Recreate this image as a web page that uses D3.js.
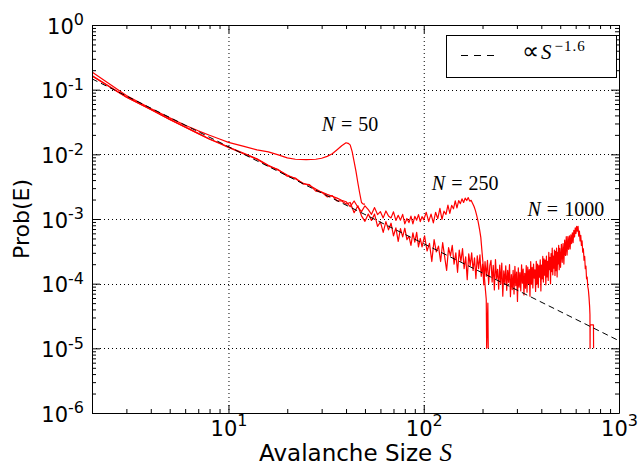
<!DOCTYPE html>
<html>
<head>
<meta charset="utf-8">
<script src="https://cdn.jsdelivr.net/npm/d3@7"></script>
<style>
  body { margin: 0; background: #fff; }
  svg text { fill: #000; }
</style>
</head>
<body>
<script>
// avalanche size distributions
const smallSizes = [2,3,4,5,6,7,8,9,10,12,14,16,18,20,22,24,26,28,30,32,34,36,38,40];

const n50Size = [2,3,4,5,6,7,8,9,10,12,14,16,18,20,22,25,28,30,32,34,36,38,40,41,42,43,44,45,46,47,48,49,50];
const n50Prob = [0.188,0.0815,0.0513,0.0366,0.0281,0.0231,0.0197,0.0173,0.0153,
  0.0133,0.0117,0.0109,0.0098,0.0088,0.0084,
  0.0083,0.0084,0.0087,0.0093,0.0102,0.0118,0.0136,0.0151,
  0.0148,0.0140,0.0110,0.0077,0.0054,0.0036,0.0025,0.0018,0.0017,0.0017];

const n250Size = smallSizes.concat(
  [42,44,46,48,50,52,54,56,58,60,62,64,66,68,70,72,74,76,78,80,82,84,86,88,90,92,94,96,98,100],
  [103,106,109,112,115,118,121,124,127,130,133,136,139,142,145,148,151,154,157,160,163,166,169,172,175],
  [178,181,184,187,190,193,196,199,202,205,207,209,210,213,214]);
const n250Prob = [0.166,0.0773,0.0496,0.0347,0.0266,0.0211,0.0173,0.0150,0.0130,0.0104,0.0085,0.0068,
  0.0057,0.0048,0.0042,0.0036,0.0033,0.0029,0.0026,0.0024,0.00225,0.0021,0.00195,0.00185,
  1.55e-3,1.9e-3,1.52e-3,1.3e-3,1.6e-3,1.4e-3,1.18e-3,1.5e-3,1.17e-3,1.3e-3,
  1.04e-3,1.33e-3,1.11e-3,1.04e-3,1.29e-3,9.5e-4,1.14e-3,9.6e-4,1.18e-3,8.4e-4,
  1.02e-3,8.8e-4,1.11e-3,8.4e-4,1.1e-3,9.6e-4,1.17e-3,9.1e-4,1.09e-3,9.7e-4,
  1.27e-3,9.1e-4,1.19e-3,8.7e-4,1.27e-3,1.01e-3,1.46e-3,9.9e-4,1.32e-3,1.18e-3,
  1.64e-3,1.22e-3,1.63e-3,1.44e-3,1.91e-3,1.48e-3,1.93e-3,1.73e-3,2.05e-3,1.8e-3,
  2.1e-3,1.93e-3,2.14e-3,1.89e-3,1.94e-3,
  1.74e-3,1.56e-3,1.35e-3,1.12e-3,9.0e-4,7.0e-4,5.2e-4,3.0e-4,1.8e-4,1.15e-4,8e-5,5.7e-5,1e-5,5e-5,1e-5];

const n1000Size = smallSizes.concat(
  [42,44,46,48,50,52,54,56,58,60,62,64,66,68,70,72,74,76,78,80,82,84,86,88,90,92,94,96,98],
  [101,104,107,110,113,116,119,122,125,128,131,134,137,140,143,146,149,152,155,158,
   161,164,167,170,173,176,179,182,185,188,191,194,197,200,203,206,209,212,215,218],
  [221,224,227,230,233,236,239,242,245,248,251,254,257,260,263,266,269,272,275,278,
   281,284,287,290,293,296,299,302,305,308,311,314,317,320,323,326,329,332,335,338,
   341,344,347,350,353,356,359,362,365,368,371,374,377,380,383,386,389,392,395,398,
   401,404,407,410,413,416,419,422,425,428,431,434,437,440,443,446,449,452,455,458,
   461,464,467,470,473,476,479,482,485,488,491,494,497],
  [502,507,512,517,522,527,532,537,542,547,552,557,562,567,572,577,582,587,592,597,
   602,607,612,617,622,627,632,637,642,647,652,657,662,667,672,677,682,687,692,697,702,707],
  [710,711,712,740,741]);
const n1000Prob = [0.163,0.0765,0.0492,0.0345,0.0263,0.0209,0.0171,0.0147,0.0128,0.0101,0.0084,0.0066,
  0.0058,0.0046,0.0043,0.0035,0.0034,0.0027,0.0026,0.0022,0.0023,0.0019,0.0019,0.0017,
  1.8e-3,1.25e-3,1.6e-3,1.12e-3,9.2e-4,1.19e-3,9.5e-4,1.19e-3,7.7e-4,9.0e-4,
  6.2e-4,9.1e-4,6.8e-4,8.6e-4,5.5e-4,7.3e-4,4.5e-4,7.1e-4,5.3e-4,7.2e-4,
  4.8e-4,5.4e-4,3.9e-4,6.1e-4,4.4e-4,6.2e-4,3.7e-4,5.0e-4,3.7e-4,
  5.5e-4,3.2e-4,4.2e-4,2.2e-4,4.8e-4,3.1e-4,3.8e-4,2.2e-4,4.3e-4,2.6e-4,
  1.6e-4,3.6e-4,2.7e-4,3.9e-4,2.0e-4,3.0e-4,1.5e-4,3.3e-4,2.2e-4,3.5e-4,
  1.7e-4,2.6e-4,1.15e-4,2.9e-4,1.9e-4,3.0e-4,1.6e-4,2.5e-4,1.2e-4,2.7e-4,
  1.7e-4,2.8e-4,1.3e-4,2.0e-4,9.6e-5,2.2e-4,1.3e-4,2.3e-4,1.0e-4,1.9e-4,
  2.3e-4,1.06e-4,1.92e-4,8.0e-5,2.36e-4,1.2e-4,1.66e-4,8.2e-5,1.94e-4,9.9e-5,
  2.08e-4,6.4e-5,1.58e-4,9.9e-5,1.89e-4,7.9e-5,1.61e-4,1.05e-4,1.97e-4,6.3e-5,
  1.38e-4,8.1e-5,1.61e-4,6.9e-5,1.86e-4,9.3e-5,1.51e-4,5.3e-5,1.76e-4,8.8e-5,
  1.48e-4,7.7e-5,1.96e-4,1.02e-4,1.68e-4,6.7e-5,1.45e-4,8.5e-5,1.91e-4,7.4e-5,
  1.81e-4,1.01e-4,1.65e-4,6.4e-5,2.19e-4,9.8e-5,1.78e-4,8.6e-5,2.01e-4,1.22e-4,
  1.64e-4,7.6e-5,2.22e-4,9.9e-5,2.0e-4,8.7e-5,1.9e-4,1.26e-4,2.33e-4,7.7e-5,
  1.94e-4,1.19e-4,2.64e-4,1.06e-4,2.41e-4,1.35e-4,2.32e-4,9.6e-5,2.67e-4,1.27e-4,
  2.21e-4,1.12e-4,3.04e-4,1.64e-4,2.55e-4,1.0e-4,2.93e-4,1.54e-4,3.54e-4,1.37e-4,
  2.68e-4,1.74e-4,3.3e-4,1.34e-4,3.15e-4,1.59e-4,3.55e-4,1.27e-4,3.06e-4,2.03e-4,
  3.9e-4,1.64e-4,3.51e-4,
  1.79e-4,4.06e-4,2.14e-4,4.16e-4,2.01e-4,4.73e-4,2.74e-4,5.32e-4,2.77e-4,5.33e-4,
  3.4e-4,5.5e-4,3.45e-4,5.7e-4,4.17e-4,6.12e-4,4.32e-4,6.67e-4,5.27e-4,7.28e-4,
  5.98e-4,7.7e-4,6.48e-4,7.73e-4,5.44e-4,6.49e-4,4.59e-4,5.6e-4,3.91e-4,4.59e-4,
  3.06e-4,3.47e-4,2.3e-4,2.64e-4,1.7e-4,1.87e-4,1.19e-4,1.26e-4,9.0e-5,8.0e-5,6.2e-5,4.5e-5,
  3.3e-5,1e-5,2.3e-5,2.3e-5,1e-5];

// power law guide, endpoints
const fitSize = [2, 1000];
const fitProb = [0.147, 1.31e-5];

const xTicks = [10, 100, 1000];
const yTicks = [1, 1e-1, 1e-2, 1e-3, 1e-4, 1e-5, 1e-6];
const labels = [
  {n: "50", s: 30, p: 0.0231},
  {n: "250", s: 110, p: 2.83e-3},
  {n: "1000", s: 340, p: 1.12e-3}
];

const width = 639, height = 466;
const pLeft = 92, pRight = 619, pTop = 25, pBottom = 413;

const svg = d3.select("body").append("svg")
    .attr("width", width)
    .attr("height", height);

const x = d3.scaleLog().domain([2, 1000]).range([pLeft, pRight]);
const y = d3.scaleLog().domain([1e-6, 1]).range([pBottom, pTop]);

const minorX = [3,4,5,6,7,8,9,20,30,40,50,60,70,80,90,200,300,400,500,600,700,800,900];
const minorY = [];
for (let e = -6; e < 0; e++) {
    for (let k = 2; k < 10; k++) minorY.push(k * Math.pow(10, e));
}

svg.append("defs").append("clipPath").attr("id", "plot")
    .append("rect").attr("x", pLeft).attr("y", pTop)
    .attr("width", pRight - pLeft + 1).attr("height", pBottom - pTop + 1);

// grid
const grid = svg.append("g")
    .attr("stroke", "#000")
    .attr("stroke-width", 1)
    .attr("stroke-dasharray", "1,3");
[10, 100].forEach(v => {
    grid.append("line")
        .attr("x1", x(v) + 0.5).attr("x2", x(v) + 0.5)
        .attr("y1", pTop).attr("y2", pBottom);
});
[1e-1, 1e-2, 1e-3, 1e-4, 1e-5].forEach(v => {
    grid.append("line")
        .attr("x1", pLeft).attr("x2", pRight)
        .attr("y1", Math.round(y(v)) + 0.5).attr("y2", Math.round(y(v)) + 0.5);
});

const line = d3.line().x(d => x(d[0])).y(d => y(d[1]));
const plot = svg.append("g").attr("clip-path", "url(#plot)");

[[n50Size, n50Prob], [n250Size, n250Prob], [n1000Size, n1000Prob]].forEach(s => {
    plot.append("path")
        .datum(d3.zip(s[0], s[1]))
        .attr("d", line)
        .attr("fill", "none")
        .attr("stroke", "#ff0000")
        .attr("stroke-width", 1.2)
        .attr("stroke-linejoin", "round");
});

plot.append("path")
    .datum(d3.zip(fitSize, fitProb))
    .attr("d", line)
    .attr("fill", "none")
    .attr("stroke", "#000")
    .attr("stroke-width", 1)
    .attr("stroke-dasharray", "6,4");

// axes, ticks inward on all sides
function supLabel(shift) {
    return sel => sel.selectAll(".tick text").each(function (d) {
        const t = d3.select(this).text(null);
        t.append("tspan").text("10");
        t.append("tspan").attr("dy", shift).attr("font-size", 16)
            .text(Math.round(Math.log10(d)));
    });
}
function axisStyle(g) {
    g.attr("font-family", "'DejaVu Sans', sans-serif").attr("font-size", 21);
}

svg.append("g").attr("transform", "translate(0," + pBottom + ")")
    .call(d3.axisBottom(x).tickValues(xTicks).tickSize(-8).tickSizeOuter(0).tickPadding(8.5))
    .call(axisStyle).call(supLabel(-10));
svg.append("g").attr("transform", "translate(0," + pBottom + ")")
    .call(d3.axisBottom(x).tickValues(minorX).tickSize(-4).tickFormat("").tickSizeOuter(0))
    .call(g => g.select(".domain").remove());

svg.append("g").attr("transform", "translate(0," + pTop + ")")
    .call(d3.axisTop(x).tickValues(xTicks).tickSize(-8).tickSizeOuter(0).tickFormat(""));
svg.append("g").attr("transform", "translate(0," + pTop + ")")
    .call(d3.axisTop(x).tickValues(minorX).tickSize(-4).tickFormat("").tickSizeOuter(0))
    .call(g => g.select(".domain").remove());

svg.append("g").attr("transform", "translate(" + pLeft + ",0)")
    .call(d3.axisLeft(y).tickValues(yTicks).tickSize(-8).tickSizeOuter(0).tickPadding(8))
    .call(axisStyle).call(supLabel(-8.5))
    .call(g => g.selectAll(".tick text").attr("dy", "0.39em"));
svg.append("g").attr("transform", "translate(" + pLeft + ",0)")
    .call(d3.axisLeft(y).tickValues(minorY).tickSize(-4).tickFormat("").tickSizeOuter(0))
    .call(g => g.select(".domain").remove());

svg.append("g").attr("transform", "translate(" + pRight + ",0)")
    .call(d3.axisRight(y).tickValues(yTicks).tickSize(-8).tickSizeOuter(0).tickFormat(""));
svg.append("g").attr("transform", "translate(" + pRight + ",0)")
    .call(d3.axisRight(y).tickValues(minorY).tickSize(-4).tickFormat("").tickSizeOuter(0))
    .call(g => g.select(".domain").remove());

// axis titles
svg.append("text")
    .attr("transform", "translate(29,219) rotate(-90)")
    .attr("text-anchor", "middle")
    .attr("font-family", "'DejaVu Sans', sans-serif")
    .attr("font-size", 22)
    .text("Prob(E)");

const xl = svg.append("text")
    .attr("x", (pLeft + pRight) / 2)
    .attr("y", 461)
    .attr("text-anchor", "middle")
    .attr("font-family", "'DejaVu Sans', sans-serif")
    .attr("font-size", 23);
xl.append("tspan").text("Avalanche Size ");
xl.append("tspan")
    .attr("font-family", "'Liberation Serif', serif")
    .attr("font-style", "italic")
    .attr("font-size", 25)
    .text("S");

// N labels
labels.forEach(l => {
    const t = svg.append("text")
        .attr("x", x(l.s)).attr("y", y(l.p))
        .attr("font-family", "'Liberation Serif', serif")
        .attr("font-size", 20);
    t.append("tspan").attr("font-style", "italic").text("N");
    t.append("tspan").attr("dx", 6).text("=");
    t.append("tspan").attr("dx", 6).text(l.n);
});

// legend
const legend = svg.append("g");
legend.append("rect")
    .attr("x", 446.5).attr("y", 35.5)
    .attr("width", 170).attr("height", 42)
    .attr("fill", "#fff").attr("stroke", "#000");
legend.append("line")
    .attr("x1", 461).attr("x2", 495)
    .attr("y1", 55.5).attr("y2", 55.5)
    .attr("stroke", "#000")
    .attr("stroke-dasharray", "7,6");
const lt = legend.append("text")
    .attr("x", 522).attr("y", 59)
    .attr("font-family", "'Liberation Serif', serif")
    .attr("font-size", 21);
lt.append("tspan").attr("font-size", 24).text("\u221d");
lt.append("tspan").attr("dx", 2).attr("font-style", "italic").text("S");
lt.append("tspan").attr("dy", -8).attr("dx", 3).attr("font-size", 15)
    .attr("letter-spacing", 1).text("\u22121.6");
</script>
</body>
</html>
